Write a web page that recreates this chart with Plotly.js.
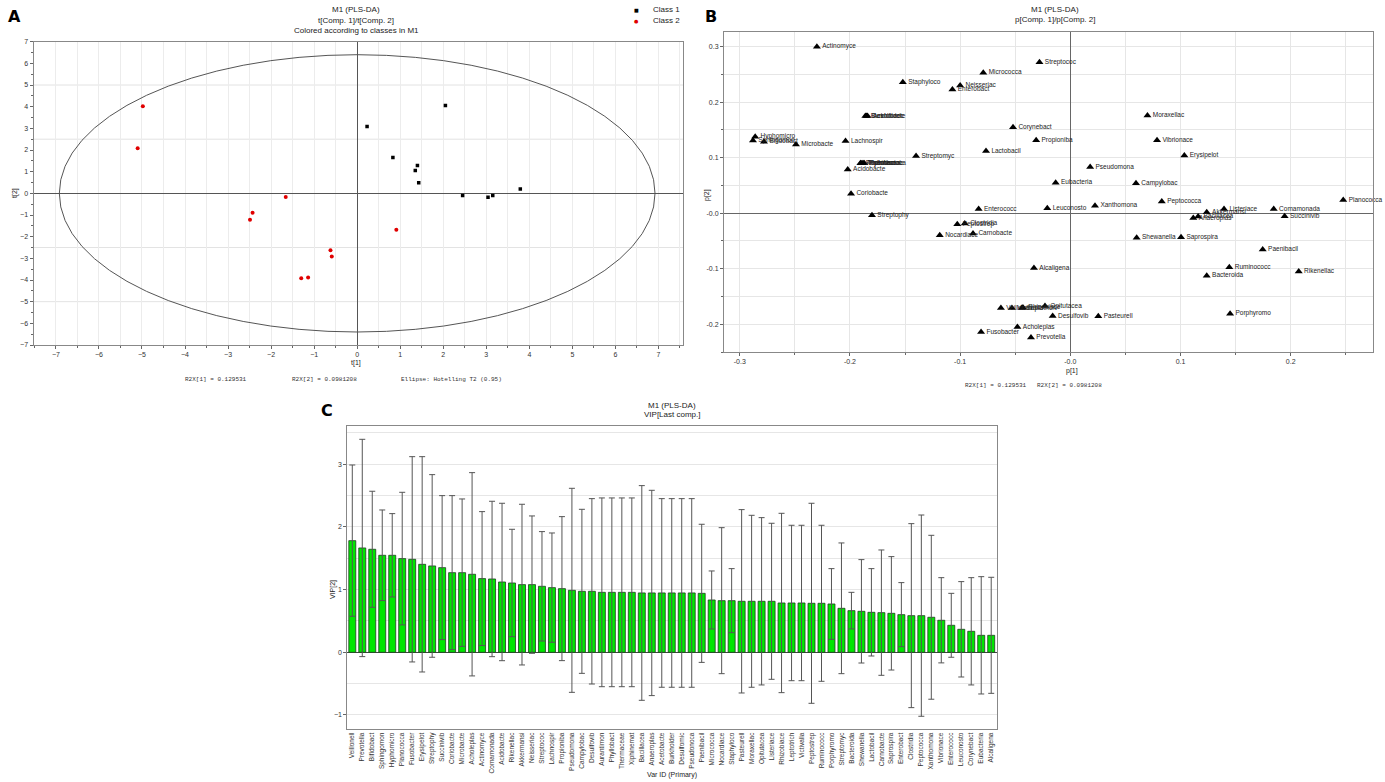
<!DOCTYPE html>
<html>
<head>
<meta charset="utf-8">
<script src="https://cdn.plot.ly/plotly-3.0.1.min.js"></script>
<style>html,body{margin:0;padding:0;background:#fff;}#chart{width:1385px;height:782px;}</style>
</head>
<body>
<div id="chart"></div>
<script>
// ---------- Panel A: score plot ----------
const classNames = ['Class 1', 'Class 2'];
const class1_t1 = [0.23, 2.05, 0.83, 1.40, 1.35, 1.43, 3.79, 2.45, 3.04, 3.15];
const class1_t2 = [3.08, 4.05, 1.66, 1.28, 1.05, 0.49, 0.20, -0.10, -0.18, -0.10];
const class2_t1 = [-4.98, -5.10, -1.66, -2.43, -2.49, 0.91, -0.62, -0.59, -1.30, -1.14];
const class2_t2 = [4.02, 2.08, -0.17, -0.89, -1.22, -1.68, -2.63, -2.91, -3.92, -3.89];
const ellipseSemiAxes = [6.92, 6.40]; // Hotelling T2 (0.95)
const aHorizontalGrid = [-5, -2.5, 2.5, 5];
const footerA = ['R2X[1] = 0.129531', 'R2X[2] = 0.0981208', 'Ellipse: Hotelling T2 (0.95)'];

// ---------- Panel B: loading plot ----------
const loadingNames = ['Actinomyce','Staphyloco','Micrococca','Neisseriac','Enterobact','Streptococ',
  'Burkholder','Desulfomic','Acetobacte','Hyphomicro','Sphingomon','Bifidobact','Microbacte','Lachnospir',
  'Streptomyc','Lactobacil','Corynebact','Propioniba','Phyllobact','Aurantimon','Thermaceae','Xiphinemat',
  'Pseudonoca','Acidobacte','Coriobacte','Moraxellac','Vibrionace','Erysipelot','Pseudomona','Eubacteria',
  'Campylobac','Planococca','Peptococca','Xanthomona','Leuconosto','Listeriace','Comamonada','Succinivib',
  'Akkermansi','Anaeroplas','Bacillacea','Shewanella','Saprospira','Paenibacil','Ruminococc','Bacteroida',
  'Rikenellac','Alcaligena','Porphyromo','Pasteurell','Desulfovib','Opitutacea','Prevotella','Enterococc',
  'Streptophy','Peptostrep','Clostridia','Nocardiace','Carnobacte','Fusobacter','Acholeplas','Veillonell',
  'Victivalla','Leptotrich','Rhizobiace'];
const loadingP1 = [-0.230,-0.152,-0.079,-0.100,-0.107,-0.028,
  -0.186,-0.185,-0.184,-0.286,-0.288,-0.278,-0.249,-0.204,
  -0.140,-0.0765,-0.052,-0.031,-0.1905,-0.190,-0.189,-0.188,
  -0.187,-0.202,-0.199,0.070,0.0787,0.1035,0.018,-0.0133,
  0.0596,0.2477,0.083,0.0224,-0.0209,0.1395,0.1846,0.1945,
  0.1238,0.1116,0.116,0.0602,0.1005,0.1746,0.1443,0.1238,
  0.2073,-0.033,0.145,0.0254,-0.016,-0.023,-0.0357,-0.0832,
  -0.180,-0.1026,-0.0958,-0.1185,-0.0883,-0.081,-0.048,-0.063,
  -0.053,-0.044,-0.043];
const loadingP2 = [0.300,0.236,0.253,0.230,0.223,0.272,
  0.175,0.175,0.175,0.138,0.131,0.129,0.124,0.130,
  0.103,0.112,0.155,0.1315,0.090,0.090,0.090,0.090,
  0.090,0.0786,0.035,0.176,0.1315,0.104,0.0834,0.055,
  0.054,0.024,0.021,0.0137,0.009,0.0077,0.0077,-0.0054,
  0.0018,-0.0085,-0.006,-0.044,-0.0433,-0.0655,-0.0973,-0.1124,
  -0.105,-0.0986,-0.181,-0.1857,-0.185,-0.167,-0.224,0.0078,
  -0.0036,-0.0198,-0.0187,-0.0397,-0.0367,-0.214,-0.205,-0.1706,
  -0.1706,-0.1706,-0.170];
const bXTickVals = [-0.3,-0.2,-0.1,0,0.1,0.2];
const bXTickText = ['-0.3','-0.2','-0.1','-0.0','0.1','0.2'];
const bYTickVals = [-0.2,-0.1,0,0.1,0.2,0.3];
const bYTickText = ['-0.2','-0.1','-0.0','0.1','0.2','0.3'];
const footerB = 'R2X[1] = 0.129531   R2X[2] = 0.0981208';

// ---------- Panel C: VIP plot ----------
const vipNames = ['Veillonell','Prevotella','Bifidobact','Sphingomon','Hyphomicro','Planococca','Fusobacter',
  'Erysipelot','Streptophy','Succinivib','Coriobacte','Microbacte','Acholeplas','Actinomyce','Comamonada',
  'Acidobacte','Rikenellac','Akkermansi','Neisseriac','Streptococ','Lachnospir','Propioniba','Pseudomona',
  'Campylobac','Desulfovib','Aurantimon','Phyllobact','Thermaceae','Xiphinemat','Bacillacea','Anaeroplas',
  'Acetobacte','Burkholder','Desulfomic','Pseudonoca','Paenibacil','Micrococca','Nocardiace','Staphyloco',
  'Pasteurell','Moraxellac','Opitutacea','Listeriace','Rhizobiace','Leptotrich','Victivalla','Peptostrep',
  'Ruminococc','Porphyromo','Streptomyc','Bacteroida','Shewanella','Lactobacil','Carnobacte','Saprospira',
  'Enterobact','Clostridia','Peptococca','Xanthomona','Vibrionace','Enterococc','Leuconosto','Corynebact',
  'Eubacteria','Alcaligena'];
const vipValues = [1.782,1.665,1.644,1.548,1.548,1.495,1.484,
  1.404,1.378,1.351,1.271,1.271,1.245,1.176,1.170,
  1.122,1.106,1.080,1.080,1.053,1.032,1.016,0.989,
  0.973,0.973,0.957,0.957,0.957,0.957,0.947,0.947,
  0.947,0.947,0.947,0.947,0.941,0.835,0.824,0.824,
  0.814,0.814,0.814,0.814,0.787,0.787,0.787,0.782,
  0.782,0.771,0.702,0.665,0.654,0.638,0.633,0.622,
  0.601,0.585,0.585,0.559,0.511,0.431,0.367,0.335,
  0.271,0.271];
const vipErrors = [1.207,1.734,0.926,0.723,0.665,1.058,1.638,
  1.718,1.457,1.149,1.229,1.176,1.622,1.069,1.240,
  1.256,0.857,1.282,1.096,0.873,0.872,1.149,1.628,
  1.309,1.479,1.506,1.506,1.506,1.506,1.713,1.638,
  1.505,1.505,1.505,1.505,1.102,0.463,1.165,0.511,
  1.463,1.372,1.335,1.245,1.431,1.240,1.240,1.596,
  1.245,0.564,1.043,0.292,0.825,0.697,1.000,0.905,
  0.511,1.468,1.606,1.308,0.680,0.510,0.761,0.856,
  0.936,0.926];

// ---------- helpers ----------
const W = 1385, H = 782;
const px = x => x / W;
const py = y => 1 - y / H;
const SANS = 'Liberation Sans, Arial, sans-serif';
const MONO = 'Liberation Mono, DejaVu Sans Mono, monospace';
function ann(text, x, y, size, opts) {
  return Object.assign({text: text, x: px(x), y: py(y), xref: 'paper', yref: 'paper',
    showarrow: false, xanchor: 'center', yanchor: 'middle',
    font: {family: SANS, size: size, color: '#222'}}, opts || {});
}

const traces = [
  {type: 'scatter', mode: 'markers', name: classNames[0], x: class1_t1, y: class1_t2,
   xaxis: 'x', yaxis: 'y', marker: {symbol: 'square', size: 3.5, color: '#000'}, showlegend: false},
  {type: 'scatter', mode: 'markers', name: classNames[1], x: class2_t1, y: class2_t2,
   xaxis: 'x', yaxis: 'y', marker: {symbol: 'circle', size: 4, color: '#e00000'}, showlegend: false},
  {type: 'scatter', mode: 'markers+text', x: loadingP1, y: loadingP2, text: loadingNames,
   textposition: 'middle right', textfont: {family: SANS, size: 6.5, color: '#222'},
   xaxis: 'x2', yaxis: 'y2', marker: {symbol: 'triangle-up', size: 7, color: '#000'},
   showlegend: false, cliponaxis: false, hoverinfo: 'text'},
  {type: 'bar', x: vipNames, y: vipValues, xaxis: 'x3', yaxis: 'y3', showlegend: false,
   marker: {color: '#00e600', line: {color: '#1f3f1f', width: 0.8}},
   error_y: {type: 'data', array: vipErrors, symmetric: true, color: '#555', thickness: 1, width: 3}}
];

const frame = {showline: true, linecolor: '#888', linewidth: 1, mirror: true};
const shapes = [
  {type: 'circle', xref: 'x', yref: 'y', x0: -ellipseSemiAxes[0], x1: ellipseSemiAxes[0],
   y0: -ellipseSemiAxes[1], y1: ellipseSemiAxes[1], line: {color: '#555', width: 1}, layer: 'above'}
];
aHorizontalGrid.forEach(v => shapes.push({type: 'line', xref: 'x domain', yref: 'y', x0: 0, x1: 1,
  y0: v, y1: v, line: {color: '#e3e3e3', width: 1}, layer: 'below'}));

const layout = {
  width: W, height: H, margin: {l: 0, r: 0, t: 0, b: 0},
  paper_bgcolor: '#fff', plot_bgcolor: '#fff',
  font: {family: SANS, size: 7, color: '#333'},
  bargap: 0.3, showlegend: false,
  xaxis: Object.assign({domain: [px(33.5), px(683)], range: [-7.52, 7.57], dtick: 1, tick0: 0,
    showgrid: true, gridcolor: '#ececec', zeroline: true, zerolinecolor: '#555', zerolinewidth: 1,
    ticks: 'outside', ticklen: 3, tickcolor: '#666', tickfont: {size: 7, color: '#333'},
    minor: {dtick: 0.5, showgrid: true, gridcolor: '#ececec', ticks: 'outside', ticklen: 2, tickcolor: '#666'},
    anchor: 'y'}, frame),
  yaxis: Object.assign({domain: [py(345), py(41.7)], range: [-7, 7], dtick: 1, tick0: 0,
    showgrid: false, zeroline: true, zerolinecolor: '#555', zerolinewidth: 1,
    ticks: 'outside', ticklen: 3, tickcolor: '#666', tickfont: {size: 7, color: '#333'},
    minor: {dtick: 0.5, ticks: 'outside', ticklen: 2, tickcolor: '#666', showgrid: false},
    anchor: 'x'}, frame),
  xaxis2: Object.assign({domain: [px(724), px(1373)], range: [-0.3143, 0.2747],
    tickvals: bXTickVals, ticktext: bXTickText, showgrid: true, gridcolor: '#e6e6e6',
    zeroline: true, zerolinecolor: '#666', zerolinewidth: 1,
    ticks: 'outside', ticklen: 3, tickcolor: '#666', tickfont: {size: 7, color: '#333'},
    minor: {dtick: 0.05, showgrid: true, gridcolor: '#e6e6e6', ticks: 'outside', ticklen: 2},
    anchor: 'y2'}, frame),
  yaxis2: Object.assign({domain: [py(352), py(32.3)], range: [-0.25, 0.326],
    tickvals: bYTickVals, ticktext: bYTickText, showgrid: true, gridcolor: '#e6e6e6',
    zeroline: true, zerolinecolor: '#666', zerolinewidth: 1,
    ticks: 'outside', ticklen: 3, tickcolor: '#666', tickfont: {size: 7, color: '#333'},
    minor: {dtick: 0.05, showgrid: true, gridcolor: '#e6e6e6', ticks: 'outside', ticklen: 2},
    anchor: 'x2'}, frame),
  xaxis3: Object.assign({domain: [px(347.3), px(996.7)], range: [-0.5, 64.55], type: 'category',
    tickangle: -90, tickfont: {size: 6.5, color: '#333'}, showgrid: false, ticks: '',
    anchor: 'y3'}, frame),
  yaxis3: Object.assign({domain: [py(729), py(425.7)], range: [-1.224, 3.616], dtick: 1, tick0: 0,
    showgrid: true, gridcolor: '#e6e6e6', zeroline: true, zerolinecolor: '#444', zerolinewidth: 1,
    ticks: 'outside', ticklen: 3, tickcolor: '#666', tickfont: {size: 7, color: '#333'},
    minor: {dtick: 0.5, showgrid: true, gridcolor: '#e6e6e6'},
    anchor: 'x3'}, frame),
  shapes: shapes,
  annotations: [
    ann('<b>A</b>', 14, 17, 16, {font: {family: 'DejaVu Sans, sans-serif', size: 16, color: '#000'}}),
    ann('M1 (PLS-DA)', 356, 10, 8),
    ann('t[Comp. 1]/t[Comp. 2]', 356, 21, 8),
    ann('Colored according to classes in M1', 356, 31, 8),
    ann('t[2]', 15, 193, 7, {textangle: -90}),
    ann('t[1]', 356, 363, 7),
    // legend of panel A
    ann('■', 636, 10, 5, {font: {family: 'DejaVu Sans, sans-serif', size: 5, color: '#000'}}),
    ann('●', 636, 21, 5, {font: {family: 'DejaVu Sans, sans-serif', size: 5, color: '#e00000'}}),
    ann(classNames[0], 682, 10, 8, {xanchor: 'right'}),
    ann(classNames[1], 682, 21, 8, {xanchor: 'right'}),
    ann(footerA[0], 216, 380, 6, {font: {family: MONO, size: 6, color: '#333'}}),
    ann(footerA[1], 324, 380, 6, {font: {family: MONO, size: 6, color: '#333'}}),
    ann(footerA[2], 451, 380, 6, {font: {family: MONO, size: 6, color: '#333'}}),
    ann('<b>B</b>', 711, 17, 16, {font: {family: 'DejaVu Sans, sans-serif', size: 16, color: '#000'}}),
    ann('M1 (PLS-DA)', 1055, 10, 8),
    ann('p[Comp. 1]/p[Comp. 2]', 1055, 20, 8),
    ann('p[2]', 707, 195, 7, {textangle: -90}),
    ann('p[1]', 1072, 371, 7),
    ann(footerB, 1033, 386, 6, {font: {family: MONO, size: 6, color: '#333'}}),
    ann('<b>C</b>', 327, 410, 16, {font: {family: 'DejaVu Sans, sans-serif', size: 16, color: '#000'}}),
    ann('M1 (PLS-DA)', 672, 405, 8),
    ann('VIP[Last comp.]', 672, 414, 8),
    ann('VIP[2]', 333, 590, 7, {textangle: -90}),
    ann('Var ID (Primary)', 672, 775, 7)
  ]
};

Plotly.newPlot('chart', traces, layout, {displayModeBar: false, staticPlot: true});
</script>
</body>
</html>
